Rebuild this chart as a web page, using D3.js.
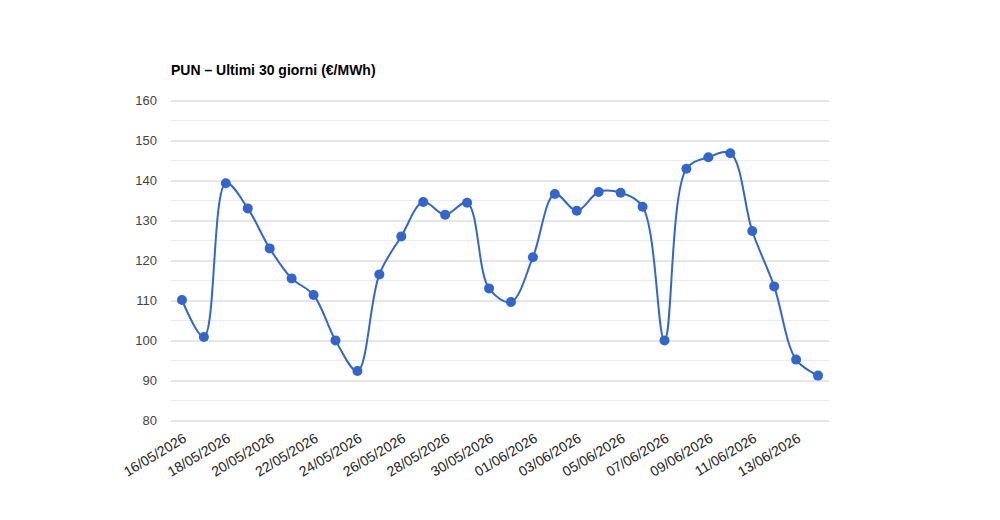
<!DOCTYPE html>
<html><head><meta charset="utf-8">
<script src="https://cdn.jsdelivr.net/npm/d3@7"></script>
<style>body{margin:0;background:#fff}svg{display:block}</style>
</head><body>
<svg id="c" width="1000" height="520"></svg>
<script>
const dates = ["16/05/2026","17/05/2026","18/05/2026","19/05/2026","20/05/2026","21/05/2026","22/05/2026","23/05/2026","24/05/2026","25/05/2026","26/05/2026","27/05/2026","28/05/2026","29/05/2026","30/05/2026","31/05/2026","01/06/2026","02/06/2026","03/06/2026","04/06/2026","05/06/2026","06/06/2026","07/06/2026","08/06/2026","09/06/2026","10/06/2026","11/06/2026","12/06/2026","13/06/2026","14/06/2026"];
const values = [110,100.75,139.2,132.9,122.9,115.4,111.25,99.9,92.25,116.4,125.9,134.5,131.3,134.3,112.9,109.5,120.7,136.5,132.3,137,136.8,133.3,99.9,142.8,145.7,146.7,127.25,113.4,95.1,91.1];
const yTicks = [80,90,100,110,120,130,140,150,160];
const yMinor = [85,95,105,115,125,135,145,155];
const title = "PUN – Ultimi 30 giorni (€/MWh)";

const svg = d3.select("#c");
const font = "Arial, 'Liberation Sans', sans-serif";
const x = d3.scalePoint().domain(dates).range([171, 829]).padding(0.5);
const y = d3.scaleLinear().domain([80,160]).range([420,100]);

svg.append("text").attr("x",171).attr("y",75).attr("font-family",font).attr("font-size",14).attr("font-weight","bold").attr("fill","#000").text(title);

svg.append("g").selectAll("line").data(yMinor).join("line")
  .attr("x1",171).attr("x2",829).attr("y1",d=>y(d)+0.5).attr("y2",d=>y(d)+0.5).attr("stroke","#ebebeb");

const ya = svg.append("g").attr("transform","translate(171,0)")
  .call(d3.axisLeft(y).tickValues(yTicks).tickSize(-658).tickPadding(14));
ya.select(".domain").remove();
ya.selectAll(".tick line").attr("stroke","#cccccc").attr("transform","translate(0,0.5)");
ya.selectAll(".tick text").attr("font-family",font).attr("font-size",13).attr("fill","#444");

const xa = svg.append("g").attr("transform","translate(0,420)")
  .call(d3.axisBottom(x).tickValues(dates.filter((d,i)=>i%2===0)).tickSize(0));
xa.select(".domain").remove();
xa.selectAll(".tick text").attr("font-family",font).attr("font-size",14).attr("fill","#222")
  .attr("text-anchor","end").attr("dy",0).attr("y",0)
  .attr("transform","translate(5,21) rotate(-31)");

const line = d3.line().x((d,i)=>x(dates[i])).y(d=>y(d)).curve(d3.curveCatmullRom.alpha(0.5));
svg.append("path").datum(values).attr("d",line).attr("fill","none").attr("stroke","#3366cc").attr("stroke-width",2);
svg.append("g").selectAll("circle").data(values).join("circle")
  .attr("cx",(d,i)=>x(dates[i])).attr("cy",d=>y(d)).attr("r",5).attr("fill","#3366cc");
</script>
</body></html>
